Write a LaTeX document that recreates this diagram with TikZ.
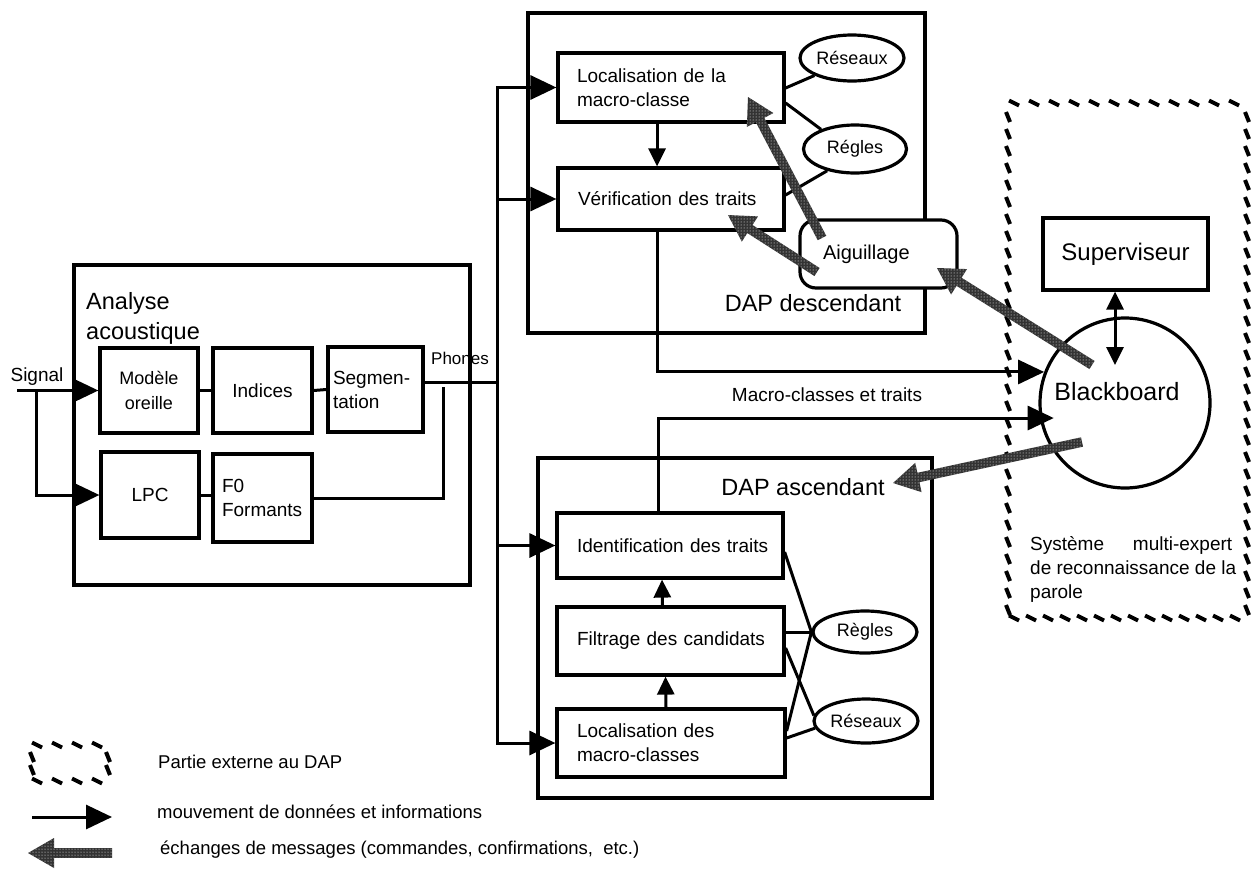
\documentclass[tikz,border=0pt]{standalone}
\usepackage{fontspec}
\setmainfont{Liberation Sans}
\usetikzlibrary{arrows.meta,calc,shapes.geometric,patterns}

\tikzset{
  frame/.style={draw, line width=3.2pt, inner sep=0pt},
  blk/.style={draw, line width=3.2pt, fill=white, inner sep=0pt},
  oval/.style={ellipse, draw, line width=3.2pt, fill=white, inner sep=0pt, font=\fontsize{18}{21}\selectfont},
  conn/.style={line width=3pt},
  dat/.style={conn, -{Triangle[length=26pt,width=24pt]}},
  sdat/.style={conn, -{Triangle[length=18pt,width=17pt]}},
  bdat/.style={conn, {Triangle[length=18pt,width=17pt]}-{Triangle[length=18pt,width=17pt]}},
  extdash/.style={line width=4pt, line cap=butt},
  msg/.style={fill=black!80, postaction={pattern=dots, pattern color=white}},
  t16/.style={inner sep=0pt, font=\fontsize{18.5}{22}\selectfont},
  t17/.style={inner sep=0pt, font=\fontsize{17}{20}\selectfont},
  t18/.style={font=\fontsize{18}{25}\selectfont},
  t19/.style={font=\fontsize{19}{24}\selectfont},
  t20/.style={font=\fontsize{20}{24}\selectfont},
  t23/.style={inner sep=0pt, font=\fontsize{23.5}{30}\selectfont},
  t25/.style={inner sep=0pt, font=\fontsize{25}{30}\selectfont},
}

% textured message arrow from #1 (tail) to #2 (tip)
\newcommand\msgarrow[2]{%
  \coordinate (mhb) at ($(#2)!26pt!(#1)$);
  \fill[msg] ($(#1)!4.8pt!90:(#2)$) -- ($(mhb)!4.8pt!90:(#2)$) -- ($(mhb)!15pt!90:(#2)$)
    -- (#2) -- ($(mhb)!15pt!-90:(#2)$) -- ($(mhb)!4.8pt!-90:(#2)$) -- ($(#1)!4.8pt!-90:(#2)$) -- cycle;}

\begin{document}
\begin{tikzpicture}[x=1pt,y=-1pt]
\useasboundingbox (0,0) rectangle (1252,870);
\fill[white] (0,0) rectangle (1252,870);

% ---------- outer frames ----------
\node[frame, minimum width=396pt, minimum height=320pt] (ana) at (272,425) {};
\node[frame, minimum width=397pt, minimum height=320pt] (desc) at (726.5,173) {};
\node[frame, minimum width=394pt, minimum height=340pt] (asc) at (735,628) {};

% ---------- acoustic analysis ----------
\node[t23, anchor=west, align=left] (anatxt) at (86,318) {Analyse\\acoustique};
\node[blk, t18, align=center, minimum width=98pt, minimum height=85pt] (mod) at (149,390.5) {Modèle\\oreille};
\node[blk, t19, minimum width=99pt, minimum height=85pt] (ind) at (262.5,390.5) {Indices};
\node[blk, t19, align=left, text width=85pt, inner xsep=5pt, minimum height=85pt] (seg) at (375.5,389.5) {Segmen-\\tation};
\node[blk, t19, minimum width=98pt, minimum height=86pt] (lpc) at (150,495) {LPC};
\node[blk, t19, align=left, text width=81pt, inner xsep=9pt, minimum height=88pt] (f0) at (262.5,498) {F0\\Formants};

\node[t19, inner sep=0pt] (sigtxt) at (37,377) {Signal};
\node[t17] (phtxt) at (460,358) {Phones};

\coordinate (sig) at (mod.west -| 17,0);
\draw[dat] (sig) -- (mod.west);
\draw[dat] (mod.west -| 36,0) |- (lpc.west);
\draw[conn] (mod.east) -- (ind.west);
\draw[conn] (ind.east) -- (seg.west);
\draw[conn] (lpc.east) -- (lpc.east -| f0.west);
\coordinate (phy) at (497,382);
\draw[conn] (seg.east |- phy) -- (phy);
\coordinate (fend) at (443,387);
\draw[conn] (f0.east) -| (fend);

% ---------- top-down DAP ----------
\node[blk, t19, align=left, text width=188pt, inner xsep=19pt, minimum height=69pt] (loc1) at (671,87.5) {Localisation de la\\macro-classe};
\node[blk, t19, align=left, text width=186pt, inner xsep=20pt, minimum height=62pt] (verif) at (671,199) {\mbox{Vérification des traits}};
\node[oval, minimum width=104pt, minimum height=46pt] (res1) at (852,58) {Réseaux};
\node[oval, minimum width=103pt, minimum height=48pt] (reg1) at (855,149) {Régles};
\node[t23] (desctxt) at (813,303) {DAP descendant};

\draw[sdat] ([xshift=-14pt]loc1.south) -- ([xshift=-14pt]verif.north);
\draw[conn] (loc1.east |- 0,88) -- (res1.205);
\draw[conn] (loc1.east |- 0,103) -- (reg1.150);
\draw[conn] (verif.east |- 0,195) -- (reg1.218);

\node[blk, rounded corners=16pt, t20, align=left, text width=111pt, inner xsep=23pt, minimum height=68pt] (aig) at (878.5,254) {Aiguillage};

% ---------- bottom-up DAP ----------
\node[blk, t19, align=left, text width=186pt, inner xsep=20pt, minimum height=65pt] (ident) at (670,545.5) {\mbox{Identification des traits}};
\node[blk, t19, align=left, text width=187pt, inner xsep=20pt, minimum height=68pt] (filt) at (670.5,641) {\mbox{Filtrage des candidats}};
\node[blk, t19, align=left, text width=188pt, inner xsep=20pt, minimum height=68pt] (lowloc) at (671,743) {Localisation des\\macro-classes};
\node[oval, minimum width=104pt, minimum height=42pt] (reg2) at (865,632) {Règles};
\node[oval, minimum width=104pt, minimum height=44pt] (res2) at (866,721) {Réseaux};
\node[t23] (asctxt) at (803,487) {DAP ascendant};

\draw[sdat] ([xshift=-5pt]lowloc.north) -- ([xshift=-5pt]filt.south);
\draw[sdat] ([xshift=-8pt]filt.north) -- ([xshift=-8pt]ident.south);
\draw[conn] (ident.east |- 0,552) -- (reg2.west);
\draw[conn] (filt.east |- 0,632) -- (reg2.west);
\draw[conn] (lowloc.east |- 0,731) -- (reg2.west);
\draw[conn] (filt.east |- 0,648) -- (res2.174);
\draw[conn] (lowloc.east |- 0,738) -- (res2.188);

% ---------- phone bus ----------
\coordinate (busx) at (497,0);
\draw[dat] (verif.west -| busx) |- (loc1.west);
\draw[dat] (verif.west -| busx) |- (lowloc.west);
\draw[dat] (verif.west -| busx) -- (verif.west);
\draw[dat] (ident.west -| busx) -- (ident.west);

% ---------- blackboard system ----------
\node[blk, font=\fontsize{24}{28}\selectfont, minimum width=165pt, minimum height=72pt] (sup) at (1125.5,254) {Superviseur};
\node[draw, circle, line width=3.2pt, minimum size=170pt, inner sep=0pt] (bb) at (1125,403) {};
\node[t25] (bbtxt) at (1117,392) {Blackboard};
\coordinate (supin) at (1115,365);
\draw[bdat] ([xshift=-10.5pt]sup.south) -- (supin);

\coordinate (bbin) at ([xshift=14pt]bb.190);
\draw[dat] ([xshift=-14pt]verif.south) |- (bb.159);
\draw[dat] ([xshift=-12pt]ident.north) |- (bbin);
\node[t19, inner sep=0pt] (mctxt) at (827,395) {Macro-classes et traits};

\node[t19, inner sep=0pt, anchor=west, align=left] (systxt) at (1030,569)
  {\makebox[202pt][s]{Système multi-expert}\\de reconnaissance de la\\parole};

% external system border
\foreach \x in {1014,1034,...,1244} \draw[extdash] (\x-5,100.5) -- (\x+5,105.5);
\foreach \x in {1014,1031,...,1244} \draw[extdash] (\x-5,615.5) -- (\x+5,620.5);
\foreach \y in {117,134,...,610} {
  \draw[extdash] (1006,\y-5) -- (1010,\y+5);
  \draw[extdash] (1245,\y-5) -- (1249,\y+5);
}

% ---------- message exchanges ----------
\coordinate (m1a) at (822,238); \coordinate (m1b) at (748,97);
\coordinate (m2a) at (817,272); \coordinate (m2b) at (728,215);
\coordinate (m3a) at (1092,365); \coordinate (m3b) at (937,268);
\coordinate (m4a) at (1082,442); \coordinate (m4b) at (893,483);
\msgarrow{m1a}{m1b}
\msgarrow{m2a}{m2b}
\msgarrow{m3a}{m3b}
\msgarrow{m4a}{m4b}

% ---------- legend ----------
\foreach \x in {37,57,77,97} {
  \draw[extdash] (\x-5,742.5) -- (\x+5,747.5);
  \draw[extdash] (\x-5,778.5) -- (\x+5,783.5);
}
\foreach \y in {757,770} {
  \draw[extdash] (30,\y-5) -- (34,\y+5);
  \draw[extdash] (106,\y-5) -- (110,\y+5);
}
\node[t16, anchor=west] (lg1t) at (158,762) {Partie externe au DAP};
\coordinate (lg2a) at (32,817); \coordinate (lg2b) at (112,817);
\draw[dat] (lg2a) -- (lg2b);
\node[t16, anchor=west] (lg2t) at (157,812) {mouvement de données et informations};
\coordinate (lg3a) at (112,853); \coordinate (lg3b) at (28,853);
\msgarrow{lg3a}{lg3b}
\node[t16, anchor=west] (lg3t) at (160,850) {échanges de messages (commandes, confirmations,\ \ etc.)};
\end{tikzpicture}
\end{document}
